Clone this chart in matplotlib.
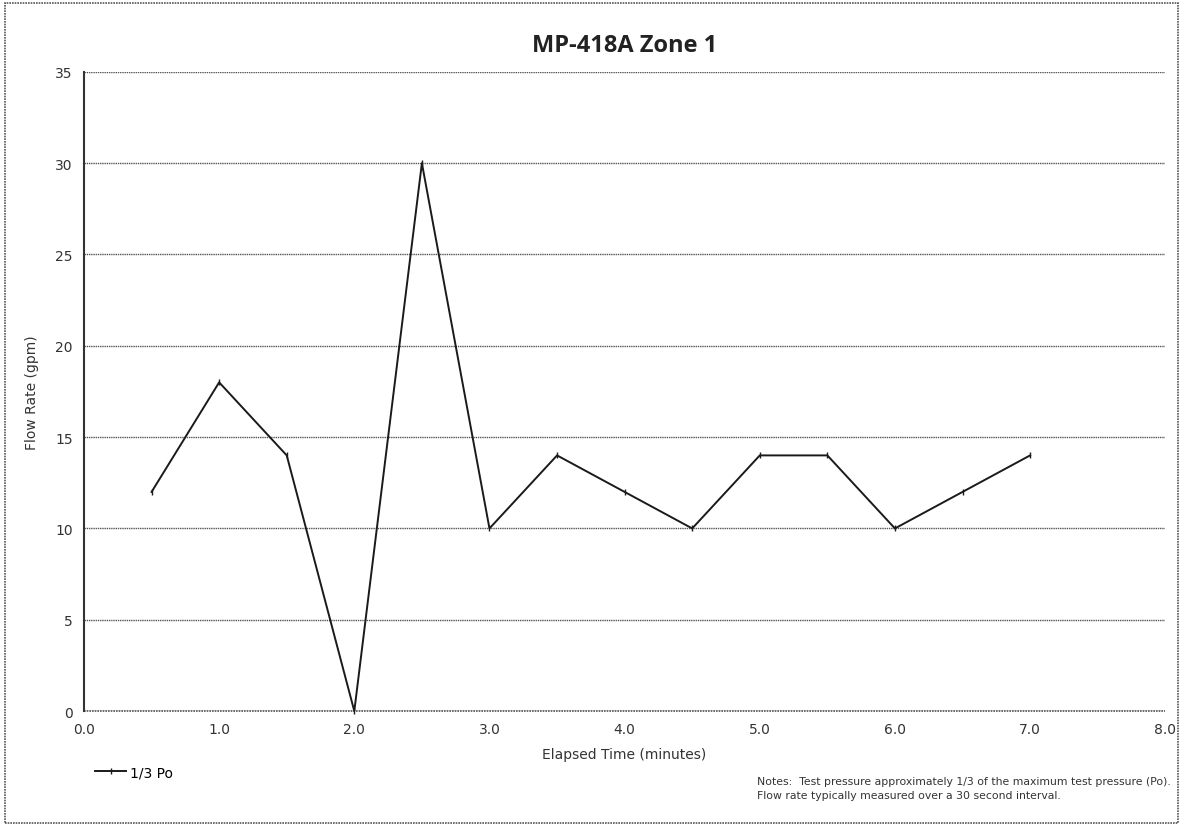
import matplotlib
matplotlib.use('Agg')
import matplotlib.pyplot as plt
import numpy as np

# elapsed time (minutes) and flow rate (gpm)
elapsed = [0.5, 1.0, 1.5, 2.0, 2.5, 3.0, 3.5, 4.0, 4.5, 5.0, 5.5, 6.0, 6.5, 7.0]
flow = [12, 18, 14, 0, 30, 10, 14, 12, 10, 14, 14, 10, 12, 14]
series_label = '1/3 Po'
x_ticks = [0, 1, 2, 3, 4, 5, 6, 7, 8]
y_ticks = [0, 5, 10, 15, 20, 25, 30, 35]

fig = plt.figure(figsize=(11.83, 8.28), dpi=100)
ax = fig.add_axes([0.071, 0.140, 0.914, 0.772])

ax.plot(elapsed, flow, color='#1a1a1a', lw=1.4, marker='|', ms=4, mew=1,
        label=series_label, clip_on=False, zorder=3)

ax.set_xlim(0, 8)
ax.set_ylim(0, 35)
ax.set_xticks(x_ticks)
ax.set_xticklabels([f'{t:.1f}' for t in x_ticks])
ax.set_yticks(y_ticks)
ax.tick_params(length=0, labelsize=10, colors='#333333', pad=8)
ax.yaxis.grid(True, color='#555555', lw=1.0, ls=(0, (1, 0.6)))
ax.set_axisbelow(True)
for s in ['top', 'right', 'bottom']:
    ax.spines[s].set_visible(False)
ax.spines['left'].set_color('#333333')
ax.spines['left'].set_linewidth(1.5)
ax.axhline(0, color='#555555', lw=1.2, ls=(0, (1, 0.6)), clip_on=False, zorder=1)

ax.set_xlabel('Elapsed Time (minutes)', fontsize=10, color='#333333', labelpad=8)
ax.set_ylabel('Flow Rate (gpm)', fontsize=10, color='#333333', labelpad=12)
fig.text(0.528, 0.945, 'MP-418A Zone 1', ha='center', va='center',
         fontsize=17, fontweight='bold', family='Open Sans', color='#222222')

fig.legend(loc='center left', bbox_to_anchor=(0.07, 0.066), frameon=False,
           fontsize=10, handlelength=2.2, handletextpad=0.3)

fig.text(0.640, 0.047, 'Notes:  Test pressure approximately 1/3 of the maximum test pressure (Po).\n'
         'Flow rate typically measured over a 30 second interval.',
         fontsize=7.8, color='#333333', va='center', linespacing=1.4)

# outer frame around the chart area
fig.patches.append(plt.Rectangle((0.004, 0.005), 0.992, 0.99, transform=fig.transFigure,
                                 fill=False, ec='#555555', lw=1.2, ls=(0, (1, 0.6))))

fig.savefig('out.png', dpi=100)
